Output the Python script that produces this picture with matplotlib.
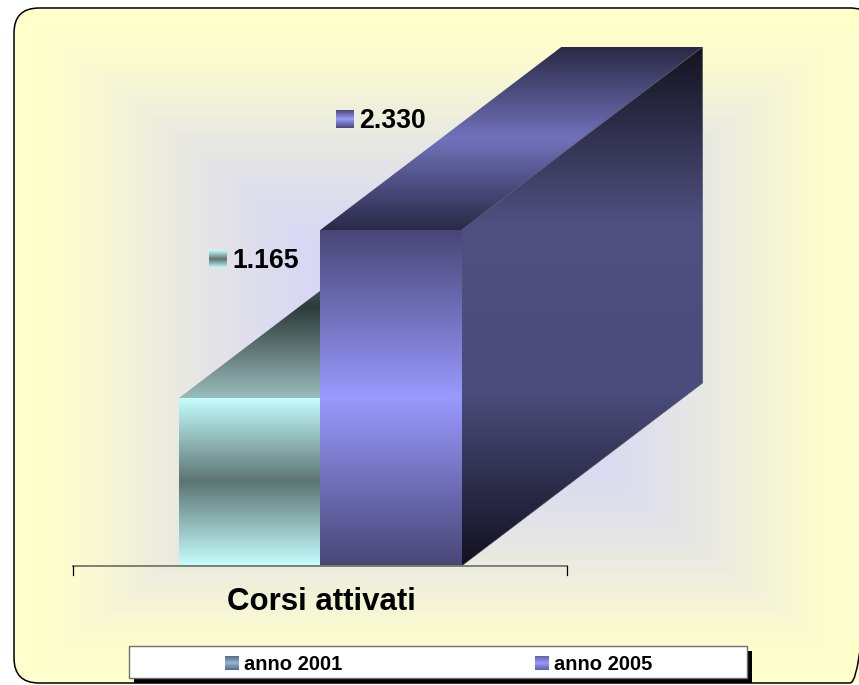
import numpy as np
from matplotlib import pyplot as plt
from matplotlib.colors import to_rgb
from matplotlib.patches import FancyBboxPatch, Polygon, Rectangle

W, H = 859, 685

category = 'Corsi attivati'
series_names = ['anno 2001', 'anno 2005']
series_values = [1165, 2330]
value_labels = ['1.165', '2.330']

# gradient stops, from one edge of the face to the other
front_colors = [['#c6ffff', '#5c7472', '#c6ffff'], ['#484676', '#9999ff', '#484676']]
top_colors = [['#9abcbc', '#2c3a38', '#9abcbc'], ['#2a2a46', '#7272bc', '#2a2a46']]
side_colors = ['#111120', '#4c4c7c', '#4f4f80', '#13131f']
legend_colors = [['#4c6c8c', '#9ab4cc', '#4c6c8c'], ['#6060a8', '#9999ff', '#6060a8']]

# pixels per bar / per unit of value, depth of the 3d box
px_per_bar = 141.3
px_per_value = 336 / 2330
base_x, base_y = 179, 566
depth_x = 241 / px_per_bar
depth_y = 183 / px_per_value


def gradient(stops, n=256):
    rgb = np.array([to_rgb(c) for c in stops])
    pos = np.linspace(0, 1, len(stops))
    t = np.linspace(0, 1, n)
    return np.stack([np.interp(t, pos, rgb[:, i]) for i in range(3)], axis=1)[:, None, :]


def fill_poly(axes, points, stops, y0, y1, zorder, edge='none'):
    xs = [p[0] for p in points]
    patch = Polygon(points, closed=True, transform=axes.transData, fc='none', ec=edge, lw=0.4, zorder=zorder + 0.05)
    axes.add_patch(patch)
    im = axes.imshow(gradient(stops), extent=(min(xs), max(xs), y0, y1), origin='lower',
                     aspect='auto', interpolation='bilinear', zorder=zorder)
    im.set_clip_path(patch)


fig = plt.figure(figsize=(W / 100, H / 100), dpi=100, facecolor='white')
plt.rcParams['font.family'] = 'Liberation Sans'

# pixel space: frame, background, category text
bg = fig.add_axes([0, 0, 1, 1], zorder=0)
bg.set_axis_off()

yy, xx = np.mgrid[0:H, 0:W]
t = np.maximum(np.abs(xx - 444) / 430, np.abs(yy - 346) / 338)
t = np.interp(t, [0, 0.4, 0.6, 0.75, 0.85, 0.95], [0, 0.3, 0.55, 0.78, 0.93, 1])[..., None]
bg_img = (1 - t) * np.array(to_rgb('#ccccff')) + t * np.array(to_rgb('#ffffcc'))
im = bg.imshow(bg_img, extent=(0, W, H, 0), aspect='auto', interpolation='bilinear')
# right side of the frame runs off the picture
frame = FancyBboxPatch((14 + 25, 8 + 25), 861 - 50, 675 - 50, boxstyle='round,pad=25,rounding_size=25',
                       fc='none', ec='black', lw=1.1, zorder=3)
bg.add_patch(frame)
im.set_clip_path(frame)
bg.set_xlim(0, W)
bg.set_ylim(H, 0)
bg.text(321, 602.5, category, ha='center', va='center', fontsize=22.5, fontweight='bold', color='black', zorder=5)

# data space: x in bars, y in values
ax = fig.add_axes([0, 0, 1, 1], zorder=1)
ax.set_axis_off()
ax.patch.set_alpha(0)
xlim = (-base_x / px_per_bar, (W - base_x) / px_per_bar)
ylim = ((base_y - H) / px_per_value, base_y / px_per_value)

# back to front so the taller box covers the other one
for i, value in enumerate(series_values):
    x0, x1 = i, i + 1
    z = 2 + i
    fill_poly(ax, [(x0, 0), (x1, 0), (x1, value), (x0, value)], front_colors[i], value, 0, z + 0.2)
    fill_poly(ax, [(x0, value), (x1, value), (x1 + depth_x, value + depth_y), (x0 + depth_x, value + depth_y)],
              top_colors[i], value, value + depth_y, z)
    fill_poly(ax, [(x1, 0), (x1 + depth_x, depth_y), (x1 + depth_x, value + depth_y), (x1, value)],
              side_colors, 0, value + depth_y, z + 0.1, edge='#55555f')
ax.set_xlim(*xlim)
ax.set_ylim(*ylim)

# value labels with their swatches
top = fig.add_axes([0, 0, 1, 1], zorder=2)
top.set_axis_off()
top.patch.set_alpha(0)


def swatch(x0, y0, size, stops):
    top.imshow(gradient(stops), extent=(x0, x0 + size, y0 + size, y0), aspect='auto',
               interpolation='bilinear', zorder=5)


# category axis, over the foot of the bars
top.plot([73, 567], [566, 566], color='#77776a', lw=1.3, zorder=4)
top.plot([73, 73], [566, 575], color='black', lw=0.9, zorder=4)
top.plot([567, 567], [566, 575], color='black', lw=0.9, zorder=4)

for label, x, y, stops in zip(value_labels, [209, 336], [250, 110], front_colors):
    swatch(x, y, 18, stops)
    top.text(x + 23.5, y + 10.5, label, ha='left', va='center', fontsize=19.2, fontweight='bold', color='black', zorder=6)

# legend box
top.add_patch(Rectangle((134, 651), 618, 32, fc='black', ec='none', zorder=3))
top.add_patch(Rectangle((129, 646), 618, 32, fc='white', ec='#707070', lw=1.0, zorder=4))
for name, x, stops in zip(series_names, [225, 535], legend_colors):
    swatch(x, 657, 13.5, stops)
    top.text(x + 19, 664.5, name, ha='left', va='center', fontsize=14.5, fontweight='bold', color='black', zorder=6)
top.set_xlim(0, W)
top.set_ylim(H, 0)

fig.savefig('out.png', dpi=100, facecolor='white')
